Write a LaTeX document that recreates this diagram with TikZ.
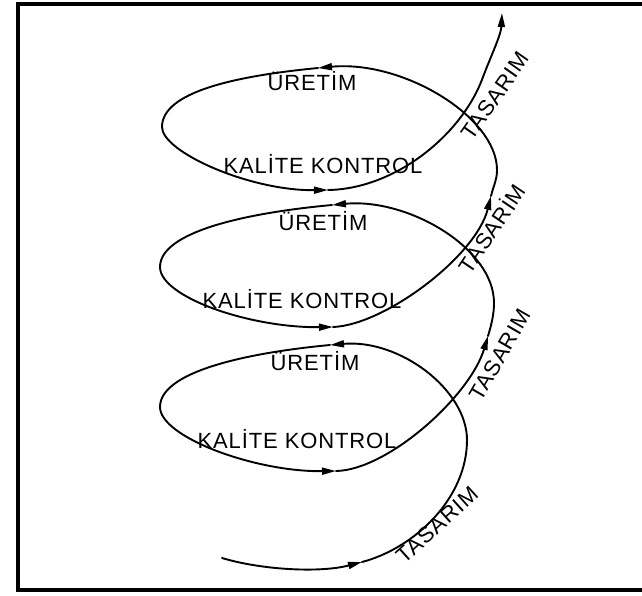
\documentclass[tikz,border=0pt]{standalone}
\usepackage{fontspec}
\setmainfont{Liberation Sans}[LetterSpace=4]
\usetikzlibrary{arrows.meta}
\begin{document}
\begin{tikzpicture}[x=1pt,y=-1pt,
  curve/.style={line width=1.9pt, line cap=round, black},
  tipped/.style={curve, -{Triangle[length=14pt,width=7pt]}},
  lbl/.style={inner sep=0pt, anchor=base, font=\fontsize{22}{22}\selectfont},
  tlbl/.style={inner sep=0pt, font=\fontsize{22}{22}\selectfont}]
\useasboundingbox (0,0) rectangle (642,595);
\fill[white] (0,0) rectangle (642,595);
% frame
\draw[line width=3.5pt] (642,4) -- (18,4) -- (18,590) -- (642,590);
% key points
\coordinate (S0) at (222,558);
\coordinate (A1) at (362,562);
\coordinate (R1) at (467,440);
\coordinate (T1) at (330,345);
\coordinate (L1) at (160,407);
\coordinate (B1) at (336,471);
\coordinate (A2) at (488,336);
\coordinate (R2) at (494,303);
\coordinate (T2) at (332,205);
\coordinate (L2) at (160,267);
\coordinate (B2) at (333,327);
\coordinate (A3) at (491,196);
\coordinate (R3) at (497,170);
\coordinate (T3) at (318,68);
\coordinate (L3) at (162,127);
\coordinate (B3) at (328,190);
\coordinate (M) at (483,77);
\coordinate (E) at (502,13);
% spiral
\draw[tipped] (S0) .. controls (262,570) and (320,573) .. (A1);
\draw[curve] (A1) .. controls (415,548) and (467,498) .. (R1);
\draw[tipped] (R1) .. controls (467,390) and (400,339) .. (T1);
\draw[curve] (T1) .. controls (245,353) and (160,372) .. (L1);
\draw[tipped] (L1) .. controls (160,437) and (255,472) .. (B1);
\draw[tipped] (B1) .. controls (388,470) and (470,396) .. (A2);
\draw[curve] (A2) .. controls (491.6,324) and (494,314) .. (R2);
\draw[tipped] (R2) .. controls (494,248) and (408,198) .. (T2);
\draw[curve] (T2) .. controls (245,213) and (160,232) .. (L2);
\draw[tipped] (L2) .. controls (160,297) and (250,328) .. (B2);
\draw[tipped] (B2) .. controls (385,325) and (476,256) .. (A3);
\draw[curve] (A3) .. controls (494,184) and (497,180) .. (R3);
\draw[tipped] (R3) .. controls (497,117) and (403,60) .. (T3);
\draw[curve] (T3) .. controls (235,76) and (162,92) .. (L3);
\draw[tipped] (L3) .. controls (162,152) and (250,191) .. (B3);
\draw[curve] (B3) .. controls (395,189) and (462,135) .. (M);
\draw[tipped] (M) .. controls (490.5,57) and (501,35) .. (E);
% labels
\node[lbl] (ur3) at (312,90) {ÜRETİM};
\node[lbl] (kk3) at (323,173) {KALİTE KONTROL};
\node[lbl] (ur2) at (323,230) {ÜRETİM};
\node[lbl] (kk2) at (302,308) {KALİTE KONTROL};
\node[lbl] (ur1) at (315,370) {ÜRETİM};
\node[lbl] (kk1) at (297,448) {KALİTE KONTROL};
\node[tlbl, rotate=55] (ta3) at (495,96) {TASARIM};
\node[tlbl, rotate=56] (ta2) at (491,228) {TASARİM};
\node[tlbl, rotate=60] (ta1) at (500,355) {TASARIM};
\node[tlbl, rotate=42] (ta0) at (437,525) {TASARIM};
\end{tikzpicture}
\end{document}
